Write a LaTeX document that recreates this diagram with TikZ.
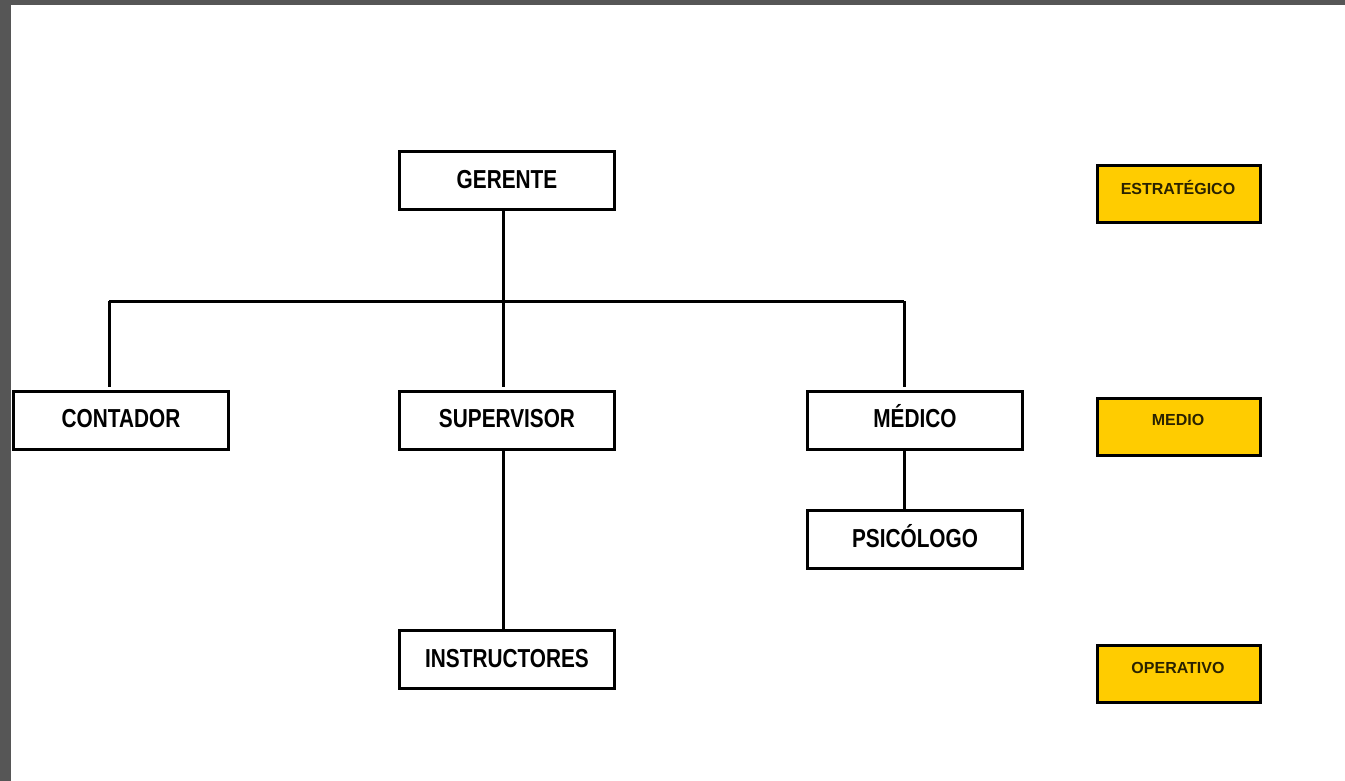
\documentclass[tikz,border=0pt]{standalone}
\usepackage{fontspec}
\setmainfont{Liberation Sans}
\usepackage{graphicx}
\definecolor{frame}{HTML}{565656}
\definecolor{gold}{HTML}{FFCC00}
\definecolor{ink}{HTML}{2A2200}
\newcommand{\nar}[1]{\scalebox{0.8}[1]{#1}}
\tikzset{
  box/.style={draw=black, line width=3pt, fill=white, inner sep=0pt,
    minimum width=215pt, minimum height=58pt, text height=18.6pt, text depth=3pt,
    font=\fontsize{26}{26}\selectfont\bfseries},
  lvl/.style={draw=black, line width=3pt, fill=gold, inner sep=0pt,
    minimum width=163pt, minimum height=57pt},
  lvltext/.style={text=ink, inner sep=0pt, text height=11.5pt, text depth=0pt,
    font=\fontsize{16}{16}\selectfont\bfseries},
  link/.style={line width=3pt, line cap=butt},
}
\begin{document}
\begin{tikzpicture}[x=1pt,y=-1pt]
\useasboundingbox (0,0) rectangle (1345,781);
\fill[white] (0,0) rectangle (1345,781);
\fill[frame] (0,0) rectangle (1345,5);
\fill[frame] (0,0) rectangle (11,781);

\node[box] (ger) at (507,180.5) {\nar{GERENTE}};
\node[box] (con) at (121,420) {\nar{CONTADOR}};
\node[box] (sup) at (507,420) {\nar{SUPERVISOR}};
\node[box] (med) at (915,420) {\nar{MÉDICO}};
\node[box] (psi) at (915,539.5) {\nar{PSICÓLOGO}};
\node[box] (ins) at (507,659.5) {\nar{INSTRUCTORES}};

\node[lvl] (est) at (1179,194) {};
\node[lvltext] (estT) at (1178,189) {ESTRATÉGICO};
\node[lvl] (mdo) at (1179,427) {};
\node[lvltext] (mdoT) at (1178,420) {MEDIO};
\node[lvl] (ope) at (1179,673.5) {};
\node[lvltext] (opeT) at (1178,668) {OPERATIVO};

\coordinate (bus) at (503.5,301);
\coordinate (busl) at (109,301);
\coordinate (busr) at (904,301);
\coordinate (conT) at (109,387);
\coordinate (medT) at (904,387);
\coordinate (supT) at (503.5,387);

\draw[link] (ger.south -| bus) -- (bus);
\draw[link] (busl) -- (busr);
\draw[link] (busl) -- (conT);
\draw[link] (busr) -- (medT);
\draw[link] (bus) -- (supT);
\draw[link] (sup.south -| bus) -- (ins.north -| bus);
\draw[link] (med.south -| busr) -- (psi.north -| busr);
\end{tikzpicture}
\end{document}
